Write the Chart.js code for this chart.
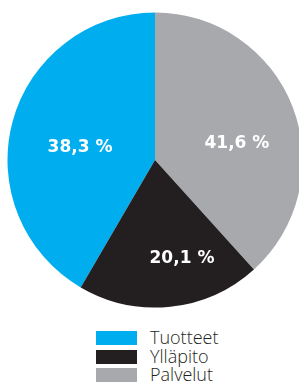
<!DOCTYPE html>
<html>
<head>
<meta charset="utf-8">
<script src="https://cdn.jsdelivr.net/npm/chart.js@4.4.1/dist/chart.umd.min.js"></script>
<style>
  html, body { margin: 0; padding: 0; background: #ffffff; width: 299px; height: 383px; overflow: hidden; }
  #wrap { position: absolute; left: 0; top: 0; width: 310px; height: 320px; }
  #legend { position: absolute; left: 96px; top: 331px; }
  .item { position: relative; height: 18.7px; }
  .box { position: absolute; left: 0; top: 0; width: 41px; height: 14px; }
  .txt { position: absolute; left: 54px; top: -5px; font-family: 'Open Sans', sans-serif; font-weight: 300; font-size: 18px; line-height: 22px; color: #231F20; white-space: nowrap; }
</style>
</head>
<body>
<div id="wrap"><canvas id="c" width="310" height="320"></canvas></div>
<div id="legend"></div>
<script>
// Data (legend order). Slice sizes as drawn; printed labels as shown on the chart.
const categories = ['Tuotteet', 'Ylläpito', 'Palvelut'];
const values = [41.6, 20.1, 38.3];
const printedLabels = ['38,3 %', '20,1 %', '41,6 %'];
const colors = ['#00AEEF', '#231F20', '#A7A9AC'];

// Clockwise drawing order (blue, gray, black), starting where blue begins.
const drawOrder = [0, 2, 1];
const total = values.reduce((a, b) => a + b, 0);
const rotation = (values[2] + values[1]) / total * 360;

// Label placement tweaks per category (legend order)
const labelAngleOffset = [-6, -9.3, 10];
const labelRadiusFrac = [0.515, 0.696, 0.566];

const labelPlugin = {
  id: 'sliceLabels',
  afterDatasetsDraw(chart) {
    const ctx = chart.ctx;
    const meta = chart.getDatasetMeta(0);
    meta.data.forEach((arc, j) => {
      const i = drawOrder[j];
      const mid = (arc.startAngle + arc.endAngle) / 2 + labelAngleOffset[i] * Math.PI / 180;
      const r = arc.outerRadius * labelRadiusFrac[i];
      const x = arc.x + Math.cos(mid) * r;
      const y = arc.y + Math.sin(mid) * r;
      ctx.save();
      ctx.fillStyle = '#ffffff';
      ctx.font = 'bold 17px "DejaVu Sans", sans-serif';
      ctx.textAlign = 'center';
      ctx.textBaseline = 'middle';
      ctx.fillText(printedLabels[i], x, y);
      ctx.restore();
    });
  }
};

new Chart(document.getElementById('c'), {
  type: 'pie',
  data: {
    labels: drawOrder.map(i => categories[i]),
    datasets: [{
      data: drawOrder.map(i => values[i]),
      backgroundColor: drawOrder.map(i => colors[i]),
      borderWidth: 0
    }]
  },
  options: {
    responsive: false,
    animation: false,
    rotation: rotation,
    layout: { padding: { left: 7.5, right: 7.5, top: 12.5, bottom: 12.5 } },
    plugins: {
      legend: { display: false },
      tooltip: { enabled: false }
    }
  },
  plugins: [labelPlugin]
});

const legend = document.getElementById('legend');
categories.forEach((c, i) => {
  const item = document.createElement('div');
  item.className = 'item';
  const box = document.createElement('div');
  box.className = 'box';
  box.style.background = colors[i];
  const t = document.createElement('div');
  t.className = 'txt';
  t.textContent = c;
  item.appendChild(box);
  item.appendChild(t);
  legend.appendChild(item);
});
</script>
</body>
</html>
